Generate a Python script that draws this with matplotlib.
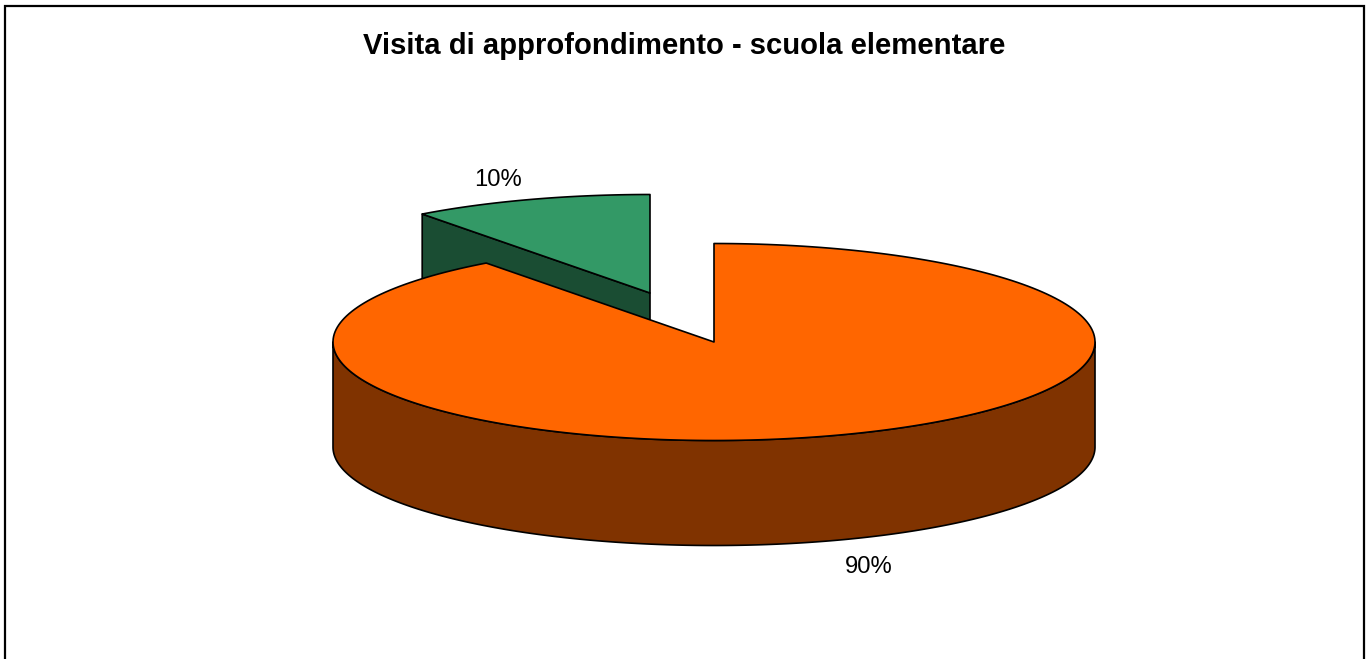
from __future__ import annotations

import matplotlib

matplotlib.use("Agg")
import matplotlib.pyplot as plt
import numpy as np
from matplotlib.patches import Polygon, Rectangle

TITLE = "Visita di approfondimento - scuola elementare"
VALUES = [89.8, 10.2]
LABELS = ["90%", "10%"]

WIDTH, HEIGHT = 1370, 659
CX, CY = 714, 342
RX, RY = 381, 98.5
DEPTH = 105
EXPLODE_GREEN = (-64, -49)

ORANGE, ORANGE_DARK = "#ff6600", "#803300"
GREEN, GREEN_DARK = "#339966", "#1a4d33"


def rim(a0, a1, dx=0.0, dy=0.0, n=240):
  # angles in radians, clockwise from 12 o'clock
  t = np.linspace(a0, a1, n)
  return np.column_stack([CX + dx + RX * np.sin(t), CY + dy - RY * np.cos(t)])


def add(ax, pts, color, z):
  ax.add_patch(Polygon(pts, closed=True, facecolor=color, edgecolor="black", linewidth=1.2, joinstyle="round", zorder=z))


def main() -> None:
  fig = plt.figure(figsize=(WIDTH / 100, HEIGHT / 100), dpi=100)
  ax = fig.add_axes([0, 0, 1, 1])
  ax.set_xlim(0, WIDTH)
  ax.set_ylim(HEIGHT, 0)
  ax.axis("off")

  plt.rcParams["font.family"] = ["Liberation Sans", "DejaVu Sans"]

  ax.add_patch(Rectangle((5, 5.5), 1359, 700, facecolor="white", edgecolor="black", linewidth=1.6, zorder=0))

  total = sum(VALUES)
  orange_sweep = 2 * np.pi * VALUES[0] / total
  dx, dy = EXPLODE_GREEN

  # green slice, pulled out: cut face first, then the top
  corner = rim(orange_sweep, 2 * np.pi, dx, dy, n=2)
  apex = (CX + dx, CY + dy)
  add(ax, [corner[0], apex, (apex[0], apex[1] + DEPTH), (corner[0][0], corner[0][1] + DEPTH)], GREEN_DARK, 2)
  green_top = np.vstack([[apex], rim(orange_sweep, 2 * np.pi, dx, dy)])
  add(ax, green_top, GREEN, 3)

  # orange slice: outer wall (lower half of the ellipse only), then the top
  wall = rim(np.pi / 2, 3 * np.pi / 2)
  add(ax, np.vstack([wall, (wall + [0, DEPTH])[::-1]]), ORANGE_DARK, 4)
  orange_top = np.vstack([[(CX, CY)], rim(0, orange_sweep)])
  add(ax, orange_top, ORANGE, 5)

  ax.text(684, 46.5, TITLE, ha="center", va="center", fontsize=21.1, fontweight="bold", color="black", zorder=6)
  ax.text(869, 567, LABELS[0], ha="center", va="center", fontsize=17.2, color="black", zorder=6)
  ax.text(498.5, 180, LABELS[1], ha="center", va="center", fontsize=17.2, color="black", zorder=6)

  fig.savefig("out.png", dpi=100, facecolor="white")
  plt.close(fig)


if __name__ == "__main__":
  main()
